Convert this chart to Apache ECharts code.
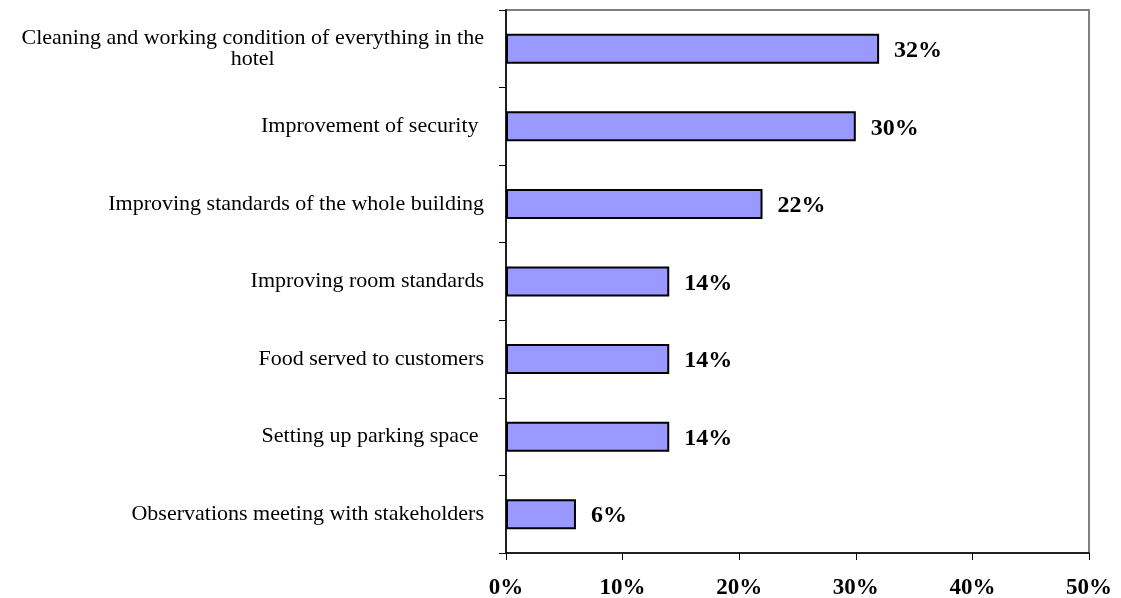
<!DOCTYPE html>
<html>
<head>
<meta charset="utf-8">
<script src="https://cdn.jsdelivr.net/npm/echarts@6/dist/echarts.min.js"></script>
<style>
  html, body { margin: 0; padding: 0; background: #ffffff; }
  #chart { width: 1121px; height: 598px; }
</style>
</head>
<body>
<div id="chart"></div>
<script>
// Improvement priorities (share of responses, %)
const categories = [
  'Cleaning and working condition of everything in the\nhotel',
  'Improvement of security ',
  'Improving standards of the whole building',
  'Improving room standards',
  'Food served to customers',
  'Setting up parking space ',
  'Observations meeting with stakeholders'
];
const values = [32, 30, 22, 14, 14, 14, 6];
const xTicks = [0, 10, 20, 30, 40, 50];

const FONT = '"Liberation Serif", "Times New Roman", serif';

const chart = echarts.init(document.getElementById('chart'), null, { renderer: 'canvas' });

chart.setOption({
  animation: false,
  backgroundColor: '#ffffff',
  grid: {
    left: 506, right: 32, top: 10, bottom: 45,
    show: true,
    borderColor: '#808080',
    borderWidth: 2,
    containLabel: false,
    outerBoundsMode: 'none'
  },
  xAxis: {
    type: 'value',
    min: xTicks[0],
    max: xTicks[xTicks.length - 1],
    interval: 10,
    splitLine: { show: false },
    axisLine: { show: true, lineStyle: { color: '#000000', width: 1.5 } },
    axisTick: { show: true, length: 7, lineStyle: { color: '#000000', width: 1 } },
    axisLabel: {
      formatter: v => v + '%',
      fontFamily: FONT,
      fontWeight: 'bold',
      fontSize: 23,
      color: '#000000',
      margin: 24
    }
  },
  yAxis: {
    type: 'category',
    data: categories,
    inverse: true,
    axisLine: { show: true, lineStyle: { color: '#000000', width: 1.5 } },
    axisTick: { show: true, length: 7, lineStyle: { color: '#000000', width: 1 } },
    splitLine: { show: false },
    axisLabel: {
      fontFamily: FONT,
      fontSize: 22,
      color: '#000000',
      margin: 22,
      align: 'right',
      lineHeight: 21,
      formatter: function (v) {
        const parts = v.split('\n');
        if (parts.length === 1) return '{a|' + v + '}';
        return '{a|' + parts[0] + '}\n{c|' + parts[1] + '}';
      },
      rich: {
        a: { fontFamily: FONT, fontSize: 22, color: '#000000', lineHeight: 21 },
        c: { fontFamily: FONT, fontSize: 22, color: '#000000', lineHeight: 21, align: 'center' }
      }
    }
  },
  series: [{
    type: 'bar',
    data: values,
    barWidth: 30,
    itemStyle: { color: '#9999ff', borderColor: '#000000', borderWidth: 2 },
    label: {
      show: true,
      position: 'right',
      distance: 15,
      offset: [0, 2],
      formatter: p => p.value + '%',
      fontFamily: FONT,
      fontWeight: 'bold',
      fontSize: 24,
      color: '#000000'
    }
  }]
});
</script>
</body>
</html>
